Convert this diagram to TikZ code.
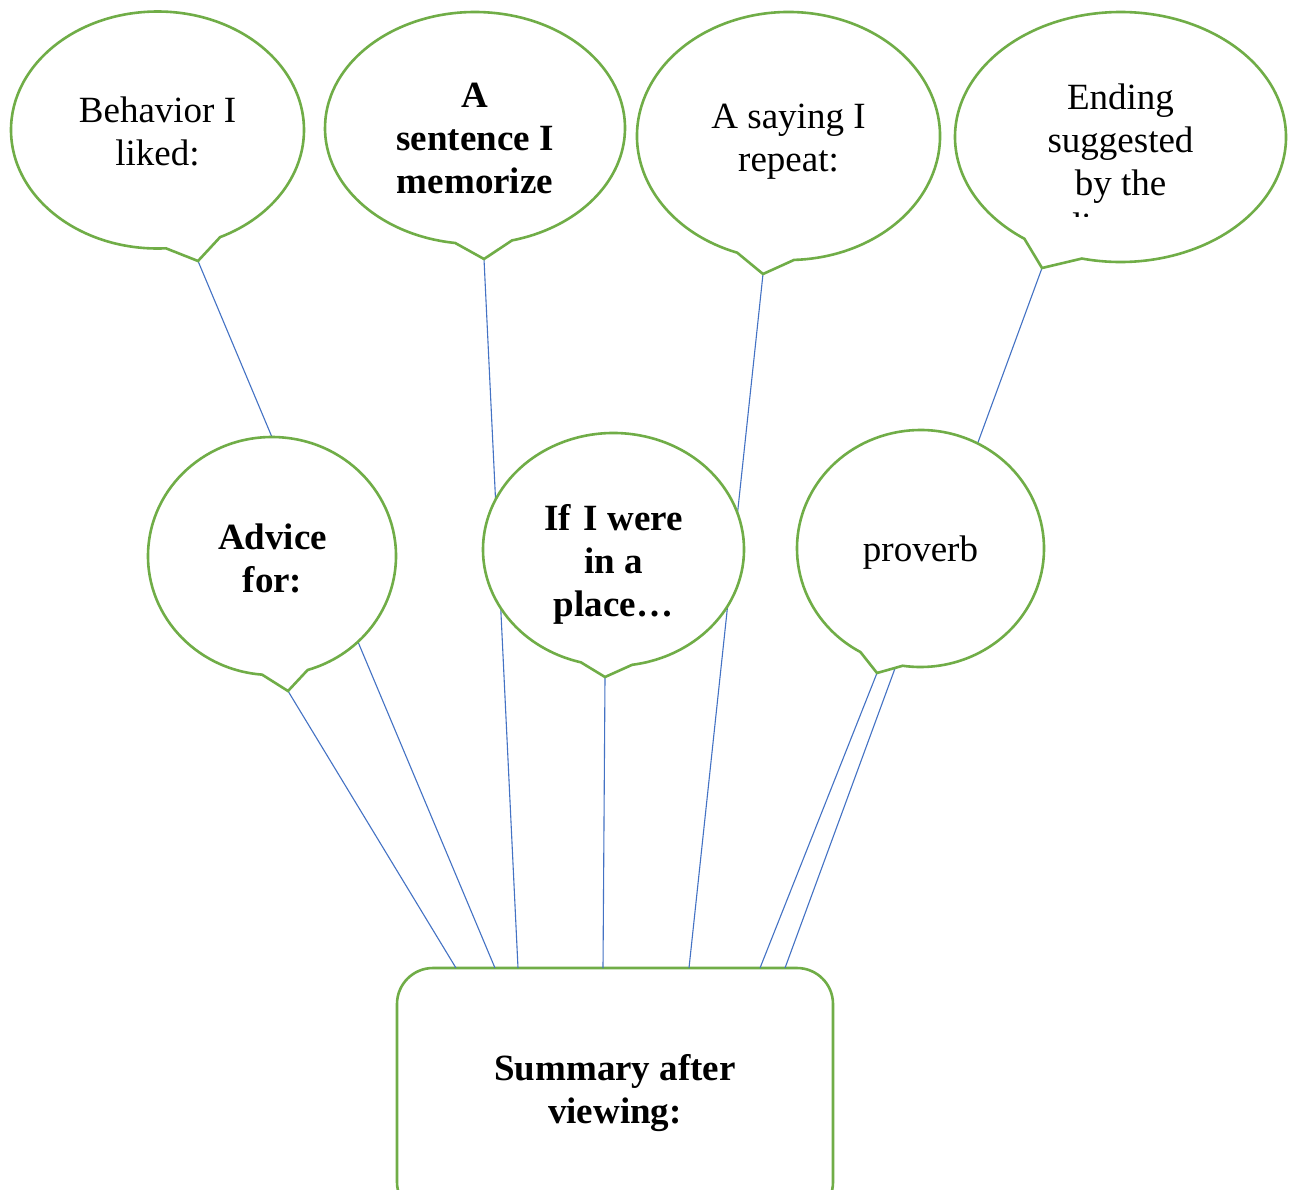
\documentclass[tikz,border=0pt]{standalone}
\usepackage{fontspec}
\setmainfont{Liberation Serif}
\definecolor{bgreen}{HTML}{70AD47}
\definecolor{lblue}{HTML}{4472C4}
\tikzset{
  bubble/.style={draw=bgreen, line width=2.6pt, fill=white, line join=miter},
  link/.style={draw=lblue, line width=1.1pt},
  btext/.style={font=\fontsize{37}{43}\selectfont, inner sep=0pt, anchor=base},
  sumbox/.style={draw=bgreen, line width=2.6pt, fill=white, rounded corners=36pt,
    minimum width=436pt, minimum height=250pt, inner sep=0pt, outer sep=0pt,
    font=\fontsize{37}{43}\selectfont\bfseries},
}
% cx cy rx ry startangle endangle tip
\newcommand\speechbubble[7]{%
  \draw[bubble] ([shift={(#5:#3 and #4)}]#1,#2)
    arc[start angle=#5, end angle=#6, x radius=#3, y radius=#4] -- (#7) -- cycle;}
\begin{document}
\begin{tikzpicture}[x=1pt,y=-1pt]
\clip (0,0) rectangle (1295,1189);
\fill[white] (0,0) rectangle (1295,1189);

% bottom box
\node[sumbox] (sum) at (615,1093)
  {\begin{tabular}{@{}c@{}}Summary after\\viewing:\end{tabular}};

% tail tips
\coordinate (t1) at (198,261);
\coordinate (t2) at (484,259);
\coordinate (t3) at (763,274);
\coordinate (t4) at (1042,268);
\coordinate (t5) at (288,691);
\coordinate (t6) at (605,677);
\coordinate (t7) at (877,673);

% connectors
\draw[link] (t1) -- ([xshift=98pt]sum.north west);
\draw[link] (t2) -- ([xshift=121pt]sum.north west);
\draw[link] (t3) -- ([xshift=292pt]sum.north west);
\draw[link] (t4) -- ([xshift=388pt]sum.north west);
\draw[link] (t5) -- ([xshift=59pt]sum.north west);
\draw[link] (t6) -- ([xshift=206pt]sum.north west);
\draw[link] (t7) -- ([xshift=363pt]sum.north west);

% bubbles
\speechbubble{157.5}{130}{146.5}{118.5}{86.7}{424.7}{t1}
\speechbubble{475}{128}{150}{116}{97.6}{435.7}{t2}
\speechbubble{788.5}{136}{151.5}{124}{109.8}{447.9}{t3}
\speechbubble{1120.5}{137}{165.5}{125}{125.5}{463.5}{t4}
\speechbubble{272}{556}{124}{119}{94.6}{433.3}{t5}
\speechbubble{613.5}{549.5}{130.5}{116.5}{104.5}{441.8}{t6}
\speechbubble{920.5}{548.5}{123.5}{118.5}{119.1}{458.3}{t7}

% texts
\node[btext] (b1) at (157.5,122) {\begin{tabular}[t]{@{}c@{}}Behavior I\\liked:\end{tabular}};
\node[btext, font=\fontsize{37}{43}\selectfont\bfseries] (b2) at (475,107)
  {\begin{tabular}[t]{@{}c@{}}A\\sentence I\\memorize\end{tabular}};
\node[btext] (b3) at (788.5,128) {\begin{tabular}[t]{@{}c@{}}A saying I\\repeat:\end{tabular}};
\begin{scope}
  \clip (950,40) rectangle (1290,216);
  \node[btext] (b4) at (1120.5,109)
    {\begin{tabular}[t]{@{}c@{}}Ending\\suggested\\by the\\director\end{tabular}};
\end{scope}
\node[btext, font=\fontsize{37}{43}\selectfont\bfseries] (b5) at (272.5,549)
  {\begin{tabular}[t]{@{}c@{}}Advice\\for:\end{tabular}};
\node[btext, font=\fontsize{37}{43}\selectfont\bfseries] (b6) at (613.5,530)
  {\begin{tabular}[t]{@{}c@{}}If\hspace{4pt} I were\\in a\\place…\end{tabular}};
\node[btext] (b7) at (920.5,561) {proverb};
\end{tikzpicture}
\end{document}
